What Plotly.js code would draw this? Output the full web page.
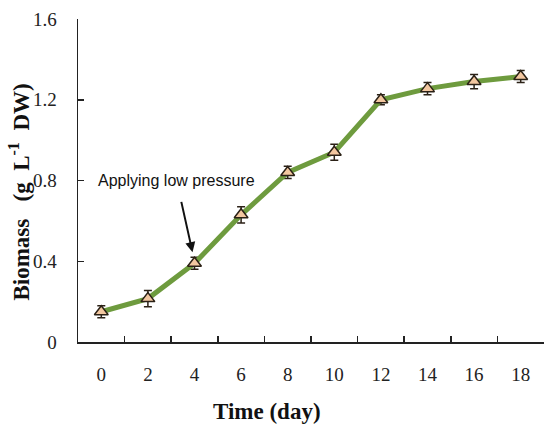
<!DOCTYPE html>
<html><head><meta charset="utf-8">
<script src="https://cdn.plot.ly/plotly-3.0.1.min.js"></script>
<style>html,body{margin:0;padding:0;background:#fff;}#chart{width:544px;height:432px;}</style>
</head><body><div id="chart"></div>
<script>
var days = ["0","2","4","6","8","10","12","14","16","18"];
var biomass = [0.15, 0.215, 0.39, 0.63, 0.84, 0.94, 1.20, 1.255, 1.29, 1.315];
var errors = [0.03, 0.04, 0.03, 0.04, 0.03, 0.04, 0.025, 0.03, 0.035, 0.03];
var yTicks = [0, 0.4, 0.8, 1.2, 1.6];
var yTickText = ["0", "0.4", "0.8", "1.2", "1.6"];

var trace = {
  x: days, y: biomass, type: 'scatter', mode: 'lines+markers',
  line: {color: '#6e9b3e', width: 5},
  marker: {symbol: 'triangle-up', size: 12, color: '#f3c7a0', line: {color: '#2b2116', width: 1.5}},
  error_y: {type: 'data', array: errors, visible: true, color: '#2b2116', thickness: 1.5, width: 4},
  hoverinfo: 'none'
};

var serif = 'Times New Roman, Liberation Serif, serif';
var layout = {
  width: 544, height: 432,
  margin: {l: 78, r: 0, t: 19, b: 90},
  paper_bgcolor: '#fff', plot_bgcolor: '#fff',
  font: {family: serif},
  showlegend: false,
  xaxis: {
    type: 'category', tickson: 'boundaries', range: [-0.5, 9.5],
    showline: true, linecolor: '#222', linewidth: 1.5, showgrid: false, zeroline: false,
    ticks: 'inside', ticklen: 6, tickcolor: '#222', tickwidth: 1.5,
    ticklabelstandoff: 15,
    tickfont: {family: serif, size: 19, color: '#222'}
  },
  yaxis: {
    range: [0, 1.6], tickvals: yTicks, ticktext: yTickText,
    showline: true, linecolor: '#222', linewidth: 1.5, showgrid: false, zeroline: false,
    ticks: 'inside', ticklen: 6, tickcolor: '#222', tickwidth: 1.5,
    ticklabelstandoff: 16,
    tickfont: {family: serif, size: 19, color: '#222'}
  },
  annotations: [
    {xref: 'paper', yref: 'paper', x: 0.405, y: -0.215, xanchor: 'center', yanchor: 'middle',
     text: '<b>Time (day)</b>', showarrow: false, font: {family: serif, size: 23, color: '#111'}},
    {xref: 'paper', yref: 'paper', x: -0.125, y: 0.465, xanchor: 'center', yanchor: 'middle', textangle: -90,
     text: '<b>Biomass   (g  L<sup>-1</sup>  DW)</b>', showarrow: false, font: {family: serif, size: 23, color: '#111'}},
    {x: 2, y: 0.445, xref: 'x', yref: 'y', text: 'Applying low pressure',
     showarrow: true, arrowhead: 2, arrowsize: 1, arrowwidth: 2, arrowcolor: '#111',
     ax: -16, ay: -72, startstandoff: 12, xshift: -2,
     font: {family: 'Liberation Sans Narrow, Arial Narrow, Liberation Sans, sans-serif', size: 16, color: '#111'}}
  ]
};
Plotly.newPlot('chart', [trace], layout, {displayModeBar: false, staticPlot: true});
</script></body></html>
